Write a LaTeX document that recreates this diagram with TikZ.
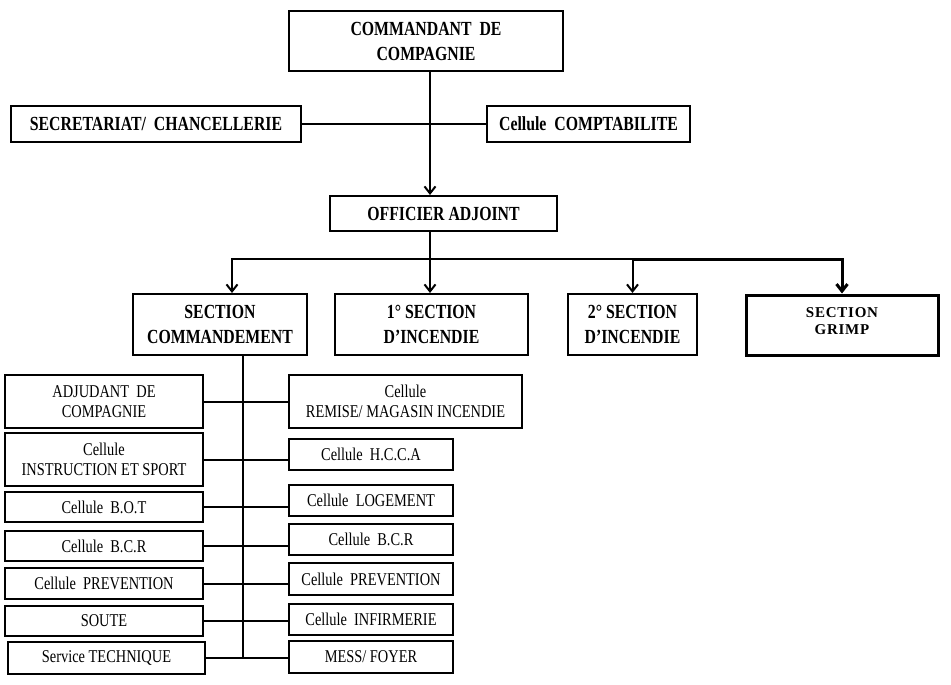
\documentclass[tikz,border=0pt]{standalone}
\usepackage{fontspec}
\setmainfont{Liberation Serif}
\newfontfamily\headfont[FakeStretch=0.79]{Liberation Serif}
\newfontfamily\cellfont[FakeStretch=0.8]{Liberation Serif}
\newfontfamily\grimpfont[LetterSpace=5]{Liberation Serif}
\usetikzlibrary{arrows.meta}
\tikzset{
  unit box/.style={
    draw,
    line width=2pt,
    inner sep=0pt,
    align=center,
    font=\headfont\bfseries\fontsize{20}{25}\selectfont,
  },
  cell box/.style={
    draw,
    line width=2pt,
    inner sep=0pt,
    align=center,
    font=\cellfont\fontsize{18}{20}\selectfont,
  },
  grimp box/.style={
    draw,
    line width=3pt,
    inner sep=0pt,
  },
  link/.style={line width=2pt},
  link arrow/.style={line width=2pt, -{Straight Barb[length=7pt,width=11pt]}},
}

\begin{document}
\begin{tikzpicture}[x=1pt, y=-1pt]
        \useasboundingbox (0,0) rectangle (951,685);

        \node[unit box, minimum width=274pt, minimum height=60pt] (cdt) at (426,41) {COMMANDANT\ \ DE\\COMPAGNIE};
        \node[unit box, minimum width=290pt, minimum height=36pt] (secr) at (156,124) {SECRETARIAT/\ \ CHANCELLERIE};
        \node[unit box, minimum width=203pt, minimum height=36pt] (compta) at (588.5,124) {Cellule\ \ COMPTABILITE};
        \node[unit box, minimum width=227pt, minimum height=35pt] (officier) at (443.5,213.5) {OFFICIER ADJOINT};

        \node[unit box, minimum width=174pt, minimum height=61pt] (cmdt) at (220,324.5) {SECTION\\COMMANDEMENT};
        \node[unit box, minimum width=193pt, minimum height=61pt] (inc1) at (431.5,324.5) {1° SECTION\\D’INCENDIE};
        \node[unit box, minimum width=129pt, minimum height=61pt] (inc2) at (632.5,324.5) {2° SECTION\\D’INCENDIE};
        \node[grimp box, minimum width=192pt, minimum height=60pt,
          label={[anchor=north, yshift=-11pt, align=center,
            font=\grimpfont\bfseries\fontsize{15}{17}\selectfont]north:SECTION\\GRIMP}] (grimp) at (842,325) {};

        % left column
        \node[cell box, minimum width=198pt, minimum height=53pt] (adj) at (104,401.5) {ADJUDANT\ \ DE\\COMPAGNIE};
        \node[cell box, minimum width=198pt, minimum height=53pt] (instr) at (104,459.5) {Cellule\\INSTRUCTION ET SPORT};
        \node[cell box, minimum width=198pt, minimum height=30pt] (bot) at (104,507) {Cellule\ \ B.O.T};
        \node[cell box, minimum width=198pt, minimum height=30pt] (bcrl) at (104,546) {Cellule\ \ B.C.R};
        \node[cell box, minimum width=198pt, minimum height=31pt] (prevl) at (104,583.5) {Cellule\ \ PREVENTION};
        \node[cell box, minimum width=198pt, minimum height=30pt] (soute) at (104,621) {SOUTE};
        \node[cell box, minimum width=197pt, minimum height=32pt] (tech) at (106.5,658) {Service TECHNIQUE};

        % right column
        \node[cell box, minimum width=233pt, minimum height=53pt] (remise) at (405.5,401.5) {Cellule\\REMISE/ MAGASIN INCENDIE};
        \node[cell box, minimum width=164pt, minimum height=31pt] (hcca) at (371,454.5) {Cellule\ \ H.C.C.A};
        \node[cell box, minimum width=164pt, minimum height=31pt] (logt) at (371,500.5) {Cellule\ \ LOGEMENT};
        \node[cell box, minimum width=164pt, minimum height=31pt] (bcrr) at (371,539.5) {Cellule\ \ B.C.R};
        \node[cell box, minimum width=164pt, minimum height=32pt] (prevr) at (371,579) {Cellule\ \ PREVENTION};
        \node[cell box, minimum width=164pt, minimum height=31pt] (infirm) at (371,619.5) {Cellule\ \ INFIRMERIE};
        \node[cell box, minimum width=164pt, minimum height=32pt] (mess) at (371,657) {MESS/ FOYER};

        \coordinate (bus) at (430,259);
        \coordinate (spine) at (243,658);

        \draw[link] (secr) -- (compta);
        \draw[link arrow] ([xshift=4pt]cdt.south) -- ([xshift=4pt]cdt.south |- officier.north);

        \draw[link] (officier.south -| bus) -- (bus);
        \draw[link arrow] (bus) -| ([xshift=12pt]cmdt.north);
        \draw[link arrow] (bus) -- (bus |- inc1.north);
        \draw[link arrow] (bus) -| (inc2.north);
        \draw[link arrow, line width=3pt] (inc2.north |- bus) -| (grimp.north);

        \draw[link] (cmdt.south -| spine) -- (spine);
        \draw[link] (adj.east) -- (adj.east -| remise.west);
        \draw[link] (instr.east) -- (instr.east -| hcca.west);
        \draw[link] (bot.east) -- (bot.east -| logt.west);
        \draw[link] (bcrl.east) -- (bcrl.east -| bcrr.west);
        \draw[link] (prevl.east) -- (prevl.east -| prevr.west);
        \draw[link] (soute.east) -- (soute.east -| infirm.west);
        \draw[link] (tech.east) -- (tech.east -| mess.west);
      \end{tikzpicture}
\end{document}
